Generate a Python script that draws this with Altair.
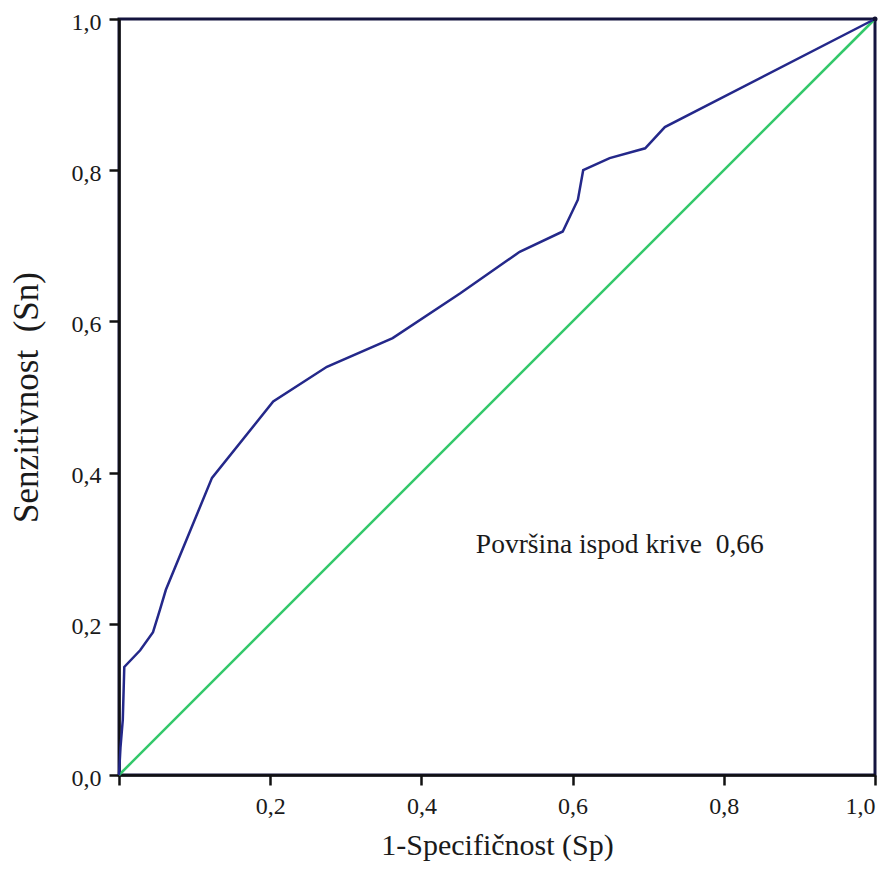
import altair as alt
import pandas as pd

# ROC curve points (1-Specificity, Sensitivity)
fpr = [0.0, 0.002, 0.005, 0.007, 0.028, 0.045, 0.054, 0.062, 0.123, 0.204,
       0.275, 0.362, 0.451, 0.530, 0.587, 0.607, 0.614, 0.649, 0.696, 0.722, 1.0]
tpr = [0.0, 0.037, 0.073, 0.143, 0.165, 0.189, 0.218, 0.245, 0.393, 0.494,
       0.540, 0.578, 0.637, 0.692, 0.719, 0.761, 0.800, 0.816, 0.829, 0.857, 1.0]

ref_x = [0.0, 1.0]
ref_y = [0.0, 1.0]

ticks = [0.0, 0.2, 0.4, 0.6, 0.8, 1.0]
annotation = "Površina ispod krive \u00a00,66"
ann_x = [0.472]
ann_y = [0.304]
end_x = [1.0]
end_y = [1.0]

roc = pd.DataFrame({"x": fpr, "y": tpr, "o": list(range(len(fpr)))})
ref = pd.DataFrame({"x": ref_x, "y": ref_y})
ann = pd.DataFrame({"x": ann_x, "y": ann_y, "t": [annotation]})
endp = pd.DataFrame({"x": end_x, "y": end_y})

FONT = "Liberation Serif"
ylab_expr = "replace(format(datum.value, '.1f'), '.', ',')"
xlab_expr = "datum.value == 0 ? '' : replace(format(datum.value, '.1f'), '.', ',')"

xscale = alt.Scale(domain=[0, 1], nice=False, zero=False)
yscale = alt.Scale(domain=[0, 1], nice=False, zero=False)

xaxis = alt.Axis(values=ticks, labelExpr=xlab_expr, title="1-Specifičnost (Sp)",
                 grid=False, tickSize=10, tickWidth=2.5, domainWidth=2.5,
                 domainColor="#111111", tickColor="#111111",
                 labelFont=FONT, labelFontSize=24, labelColor="#1a1a1a",
                 labelPadding=9, titleFont=FONT, titleFontSize=30,
                 titleFontWeight="normal", titleColor="#1a1a1a",
                 titleY=70, titleBaseline="middle")
yaxis = alt.Axis(values=ticks, labelExpr=ylab_expr, title="Senzitivnost \u00a0(Sn)",
                 grid=False, tickSize=10, tickWidth=2.5, domainWidth=2.5,
                 domainColor="#111111", tickColor="#111111",
                 labelFont=FONT, labelFontSize=24, labelColor="#1a1a1a",
                 labelPadding=8, labelOffset=3, labelFlush=False,
                 titleFont=FONT, titleFontSize=35,
                 titleFontWeight="normal", titleColor="#1a1a1a",
                 titleX=-93, titleBaseline="middle")

diag = alt.Chart(ref).mark_line(color="#33C86A", strokeWidth=2.5).encode(
    x=alt.X("x:Q", scale=xscale, axis=xaxis),
    y=alt.Y("y:Q", scale=yscale, axis=yaxis),
)

curve = alt.Chart(roc).mark_line(color="#24288A", strokeWidth=2.5).encode(
    x=alt.X("x:Q", scale=xscale),
    y=alt.Y("y:Q", scale=yscale),
    order="o:Q",
)

dot = alt.Chart(endp).mark_point(filled=True, color="#111133", size=25, opacity=1).encode(
    x=alt.X("x:Q", scale=xscale),
    y=alt.Y("y:Q", scale=yscale),
)

txt = alt.Chart(ann).mark_text(align="left", baseline="middle", font=FONT,
                               fontSize=27.5, color="#1a1a1a").encode(
    x=alt.X("x:Q", scale=xscale),
    y=alt.Y("y:Q", scale=yscale),
    text="t:N",
)

chart = alt.layer(diag, curve, dot, txt).properties(
    width=756, height=756,
    background="white",
    autosize=alt.AutoSizeParams(type="none"),
    padding={"left": 111, "top": 11, "right": 8, "bottom": 90},
).configure_view(stroke="#14143f", strokeWidth=3, strokeOpacity=1).configure_axis(
    labelFont=FONT, titleFont=FONT
)

chart.save("out.html", embed_options={"renderer": "svg", "actions": False})
